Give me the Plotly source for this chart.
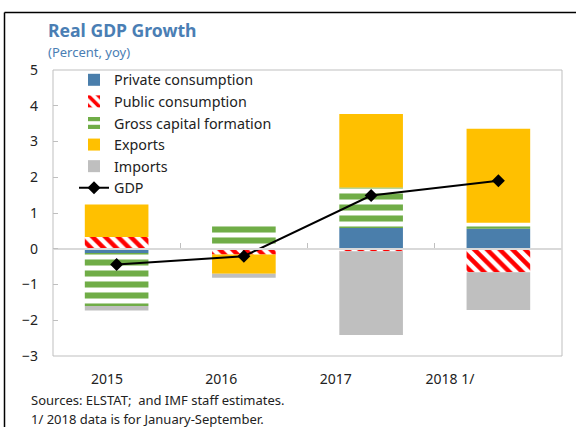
import plotly.graph_objects as go

years = ["2015", "2016", "2017", "2018 1/"]
private_cons = [-0.12, 0.0, 0.58, 0.56]
public_cons = [0.33, -0.16, -0.07, -0.66]
gross_cap = [-1.48, 0.64, 1.13, 0.17]
exports = [0.91, -0.54, 2.06, 2.63]
imports = [-0.13, -0.11, -2.34, -1.05]
gdp = [-0.44, -0.21, 1.49, 1.90]

W, H = 576, 427
L, R, T, B = 53, 562, 70, 356
pw, ph = R - L, B - T


def px_x(x):
    return (x - L) / pw


def px_y(y):
    return 1 - (y - T) / ph


FONT = "Noto Sans"
BLUE_TITLE = "#4A7EB4"
TXT = "#222222"

fig = go.Figure()
fig.add_bar(x=years, y=private_cons, name="Private consumption",
            marker=dict(color="#4A7EAB", line=dict(width=0)))
fig.add_bar(x=years, y=public_cons, name="Public consumption",
            marker=dict(color="white", line=dict(width=0),
                        pattern=dict(shape="\\", fgcolor="#FF0000", bgcolor="white",
                                     size=9, solidity=0.5, fillmode="replace",
                                     fgopacity=1)))
fig.add_bar(x=years, y=gross_cap, name="Gross capital formation",
            marker=dict(color="white", line=dict(width=0),
                        pattern=dict(shape="-", fgcolor="#70AD47", bgcolor="white",
                                     size=11, solidity=0.55, fillmode="replace",
                                     fgopacity=1)))
fig.add_bar(x=years, y=exports, name="Exports",
            marker=dict(color="#FFC000", line=dict(width=0)))
fig.add_bar(x=years, y=imports, name="Imports",
            marker=dict(color="#BFBFBF", line=dict(width=0)))
fig.add_scatter(x=years, y=gdp, name="GDP", mode="lines+markers",
                line=dict(color="black", width=2),
                marker=dict(symbol="diamond", size=10, color="black"))
# invisible helper trace for category labels
fig.add_scatter(x=years, y=[0, 0, 0, 0], xaxis="x2", mode="markers",
                marker=dict(opacity=0), showlegend=False, hoverinfo="skip")

fig.update_layout(
    width=W, height=H,
    margin=dict(l=L, r=W - R, t=T, b=H - B, autoexpand=False),
    paper_bgcolor="white", plot_bgcolor="white",
    barmode="relative", bargap=0.5,
    font=dict(family=FONT, size=14, color=TXT),
    showlegend=True,
    legend=dict(x=px_x(74), y=px_y(64), xanchor="left", yanchor="top",
                bgcolor="rgba(0,0,0,0)", font=dict(size=14.3, color=TXT),
                traceorder="normal", itemwidth=30, tracegroupgap=0),
    xaxis=dict(type="category", categoryorder="array", categoryarray=years,
               range=[-0.5, 3.5], anchor="free", position=(B - 249) / ph,
               showline=True, linecolor="#D9D9D9", linewidth=1.5,
               ticks="inside", tickson="boundaries", ticklen=5, tickcolor="#BFBFBF",
               showticklabels=False, showgrid=False, zeroline=False,
               automargin=False),
    xaxis2=dict(type="category", categoryorder="array", categoryarray=years,
                overlaying="x", anchor="y", side="bottom",
                range=[-0.4725, 3.98], showline=False, ticks="", showgrid=False,
                zeroline=False, tickfont=dict(size=14, color=TXT),
                ticklabelstandoff=13, automargin=False),
    yaxis=dict(range=[-3, 5], dtick=1, tickmode="linear", showgrid=False,
               zeroline=False, showline=False, ticks="inside", ticklen=5,
               tickcolor="#BFBFBF", tickfont=dict(size=14, color=TXT),
               ticklabelstandoff=14, automargin=False),
    shapes=[
        dict(type="rect", xref="paper", yref="paper", x0=0, x1=1, y0=0, y1=1,
             line=dict(color="#BFBFBF", width=1), layer="below"),
        dict(type="line", xref="paper", yref="paper", x0=px_x(4.5), x1=px_x(580),
             y0=px_y(12.5), y1=px_y(12.5), line=dict(color="black", width=1.5)),
        dict(type="line", xref="paper", yref="paper", x0=px_x(4.5), x1=px_x(4.5),
             y0=px_y(12.5), y1=px_y(430), line=dict(color="black", width=1.5)),
    ],
    annotations=[
        dict(text="<b>Real GDP Growth</b>", xref="paper", yref="paper",
             x=px_x(46), y=px_y(30), xanchor="left", yanchor="middle",
             showarrow=False, font=dict(size=17.6, color=BLUE_TITLE, family=FONT)),
        dict(text="(Percent, yoy)", xref="paper", yref="paper",
             x=px_x(46), y=px_y(52), xanchor="left", yanchor="middle",
             showarrow=False, font=dict(size=13, color=BLUE_TITLE, family=FONT)),
        dict(text="Sources: ELSTAT;  and IMF staff estimates.", xref="paper", yref="paper",
             x=px_x(29), y=px_y(400), xanchor="left", yanchor="middle",
             showarrow=False, font=dict(size=13, color=TXT, family=FONT)),
        dict(text="1/ 2018 data is for January-September.", xref="paper", yref="paper",
             x=px_x(29), y=px_y(419), xanchor="left", yanchor="middle",
             showarrow=False, font=dict(size=13, color=TXT, family=FONT)),
    ],
)

fig.write_html("out.html", config={"displayModeBar": False},
               post_script="document.body.style.margin='0px';")
